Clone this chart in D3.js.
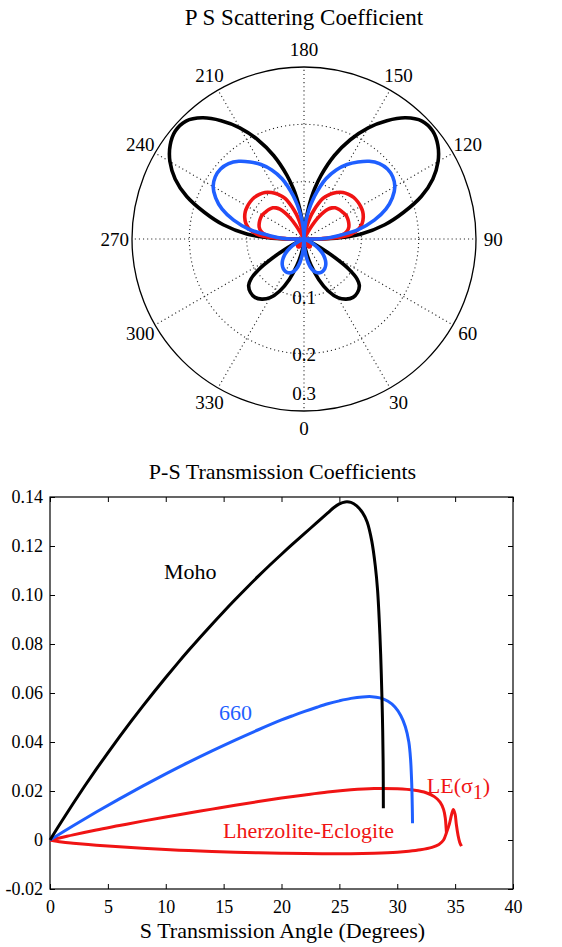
<!DOCTYPE html>
<html>
<head>
<meta charset="utf-8">
<script src="https://cdn.jsdelivr.net/npm/d3@7"></script>
<style>
  html, body { margin: 0; padding: 0; background: #fff; }
  svg { display: block; }
  svg text { font-family: "Liberation Serif", "Times New Roman", serif; }
</style>
</head>
<body>
<svg id="fig" width="562" height="947"></svg>
<script>
// ---------- Polar panel: P S scattering coefficient ----------
// angle in degrees (0 = down, increasing counter-clockwise), radius = coefficient
const polarAngleTicks = [0, 30, 60, 90, 120, 150, 180, 210, 240, 270, 300, 330];
const polarRadiusTicks = [0.1, 0.2, 0.3];

const scatterMoho = [
  [0,0],[5,0.008],[10,0.025],[15,0.048],[20,0.075],[25,0.100],[30,0.118],[35,0.128],[40,0.133],
  [45,0.132],[50,0.126],[53,0.116],[56,0.095],[59,0.062],[62,0.032],[65,0.012],[70,0.003],[80,0.002],
  [87,0.004],[90,0.030],[92,0.062],[95,0.100],[100,0.143],[105,0.180],[110,0.218],[115,0.248],
  [120,0.270],[125,0.285],[130,0.293],[135,0.291],[140,0.276],[145,0.252],[150,0.224],[155,0.191],
  [160,0.155],[165,0.115],[168,0.090],[170,0.072],[172,0.052],[175,0.027],[178,0.008],[180,0],
  [182,0.008],[185,0.027],[188,0.052],[190,0.072],[192,0.090],[195,0.115],[200,0.155],[205,0.191],
  [210,0.224],[215,0.252],[220,0.276],[225,0.291],[230,0.293],[235,0.285],[240,0.270],[245,0.248],
  [250,0.218],[255,0.180],[260,0.143],[265,0.100],[268,0.062],[270,0.030],[273,0.004],[280,0.002],
  [290,0.003],[295,0.012],[298,0.032],[301,0.062],[304,0.095],[307,0.116],[310,0.126],[315,0.132],
  [320,0.133],[325,0.128],[330,0.118],[335,0.100],[340,0.075],[345,0.048],[350,0.025],[355,0.008]
];

const scatter660 = [
  [0,0],[5,0.022],[10,0.042],[15,0.055],[20,0.062],[25,0.065],[30,0.065],[35,0.063],[40,0.059],
  [45,0.053],[50,0.045],[55,0.035],[60,0.023],[65,0.011],[70,0.003],[80,0.001],[87,0.004],
  [90,0.020],[92,0.038],[95,0.056],[100,0.097],[105,0.127],[110,0.152],[115,0.170],[120,0.183],
  [125,0.189],[130,0.190],[135,0.186],[140,0.177],[145,0.164],[150,0.150],[155,0.133],[160,0.112],
  [163,0.095],[166,0.078],[169,0.060],[172,0.042],[175,0.025],[178,0.009],[180,0],
  [182,0.009],[185,0.025],[188,0.042],[191,0.060],[194,0.078],[197,0.095],[200,0.112],[205,0.133],
  [210,0.150],[215,0.164],[220,0.177],[225,0.186],[230,0.190],[235,0.189],[240,0.183],[245,0.170],
  [250,0.152],[255,0.127],[260,0.097],[265,0.056],[268,0.038],[270,0.020],[273,0.004],[280,0.001],
  [290,0.003],[295,0.011],[300,0.023],[305,0.035],[310,0.045],[315,0.053],[320,0.059],[325,0.063],
  [330,0.065],[335,0.065],[340,0.062],[345,0.055],[350,0.042],[355,0.022]
];

const scatterLEOuter = [
  [0,0],[10,0.003],[20,0.009],[30,0.015],[35,0.017],[40,0.017],[50,0.012],[60,0.005],[70,0.001],
  [85,0.001],[89,0.004],[91,0.030],[93,0.062],[96,0.083],[100,0.096],[105,0.105],[110,0.110],
  [115,0.113],[120,0.114],[125,0.114],[130,0.113],[135,0.110],[140,0.106],[145,0.099],[150,0.090],
  [155,0.078],[158,0.066],[161,0.053],[164,0.040],[167,0.024],[170,0.009],[173,0.002],[180,0],
  [187,0.002],[190,0.009],[193,0.024],[196,0.040],[199,0.053],[202,0.066],[205,0.078],[210,0.090],
  [215,0.099],[220,0.106],[225,0.110],[230,0.113],[235,0.114],[240,0.114],[245,0.113],[250,0.110],
  [255,0.105],[260,0.096],[264,0.083],[267,0.062],[269,0.030],[271,0.004],[275,0.001],[290,0.001],
  [300,0.005],[310,0.012],[320,0.017],[325,0.017],[330,0.015],[340,0.009],[350,0.003]
];

const scatterLEInner = [
  [0,0],[10,0.002],[20,0.006],[30,0.010],[40,0.011],[50,0.008],[60,0.003],[70,0.001],[85,0.001],
  [89,0.004],[91,0.028],[93,0.050],[96,0.067],[100,0.076],[105,0.081],[110,0.083],[115,0.084],
  [120,0.084],[125,0.082],[130,0.080],[135,0.077],[138,0.073],[141,0.067],[144,0.057],[147,0.043],
  [149,0.029],[151,0.014],[153,0.004],[160,0.001],[180,0],
  [200,0.001],[207,0.004],[209,0.014],[211,0.029],[213,0.043],[216,0.057],[219,0.067],[222,0.073],
  [225,0.077],[230,0.080],[235,0.082],[240,0.084],[245,0.084],[250,0.083],[255,0.081],[260,0.076],
  [264,0.067],[267,0.050],[269,0.028],[271,0.004],[275,0.001],[290,0.001],[300,0.003],[310,0.008],
  [320,0.011],[330,0.010],[340,0.006],[350,0.002]
];

// ---------- Cartesian panel: P-S transmission coefficients ----------
const xTickValues = [0, 5, 10, 15, 20, 25, 30, 35, 40];
const yTickValues = [-0.02, 0, 0.02, 0.04, 0.06, 0.08, 0.10, 0.12, 0.14];
const yTickLabels = ["-0.02", "0", "0.02", "0.04", "0.06", "0.08", "0.10", "0.12", "0.14"];

const transMoho = [
  [0,0],[1,0.00758],[2,0.01491],[3,0.02203],[4,0.02892],[5,0.03560],[6,0.04209],[7,0.04840],
  [8,0.05454],[9,0.06052],[10,0.06633],[11,0.07200],[12,0.07752],[13,0.08288],[14,0.08810],
  [15,0.09320],[16,0.09815],[17,0.10298],[18,0.10768],[19,0.11224],[20,0.11664],[21,0.12094],
  [22,0.12512],[23,0.12935],[24,0.13350],[24.5,0.13560],[25,0.13720],[25.5,0.13800],[26,0.13780],
  [26.5,0.13640],[27,0.13360],[27.4,0.12980],[27.8,0.12200],[28.1,0.11200],[28.3,0.10200],
  [28.5,0.08400],[28.62,0.06800],[28.72,0.05000],[28.78,0.03200],[28.8,0.01300]
];

const trans660 = [
  [0,0],[2,0.0058],[4,0.0114],[6,0.0168],[8,0.0220],[10,0.0270],[12,0.0318],[14,0.0364],
  [16,0.0408],[18,0.0450],[20,0.0490],[21,0.0508],[22,0.0525],[23,0.0541],[24,0.0556],[25,0.0568],
  [26,0.0578],[27,0.0584],[27.8,0.0585],[28.5,0.0580],[29.2,0.0566],[29.8,0.0543],[30.3,0.0508],
  [30.7,0.0462],[31.0,0.0400],[31.15,0.0330],[31.25,0.0230],[31.3,0.0130],[31.32,0.0068]
];

const transLEUpper = [
  [0,0],[1,0.0010],[2,0.0021],[4,0.0041],[6,0.0059],[8,0.0077],[10,0.0094],[12,0.0110],[14,0.0126],
  [16,0.0142],[18,0.0157],[20,0.0171],[22,0.0184],[24,0.0196],[26,0.0205],[28,0.0210],[30,0.0209],
  [31.5,0.0203],[32.5,0.0193],[33.2,0.0177],[33.7,0.0155],[34.0,0.0125],[34.15,0.0090],[34.22,0.0050],
  [34.25,0.0030]
];

const transLELower = [
  [0,0],[1,-0.0008],[2,-0.0013],[4,-0.0021],[6,-0.0028],[8,-0.0034],[10,-0.0039],[12,-0.0043],
  [14,-0.0047],[16,-0.0050],[18,-0.0052],[20,-0.0054],[22,-0.0055],[24,-0.0056],[26,-0.0056],
  [28,-0.0054],[30,-0.0050],[31,-0.0046],[32,-0.0040],[33,-0.0030],[33.6,-0.0018],[34.0,0.0000],
  [34.25,0.0030],[34.5,0.0065],[34.7,0.0105],[34.85,0.0125],[35.0,0.0105],[35.1,0.0065],
  [35.25,0.0020],[35.4,-0.0010],[35.55,-0.0025]
];

const BLACK = "#000000", BLUE = "#1f5fff", RED = "#f01414";

const svg = d3.select("#fig");

// ================= polar panel =================
const cx = 304, cy = 239, R = 172;
const rScale = d3.scaleLinear().domain([0, 0.3]).range([0, R]);
const rad = d => d * Math.PI / 180;
const polar = svg.append("g").attr("transform", `translate(${cx},${cy})`);

svg.append("text")
  .attr("x", cx).attr("y", 25)
  .attr("text-anchor", "middle")
  .attr("font-size", 23)
  .text("P S Scattering Coefficient");

const dotted = { stroke: "#222", width: 1.1, dash: "1.1,3" };

// dotted spokes
polar.selectAll("line.spoke")
  .data(polarAngleTicks)
  .join("line")
  .attr("class", "spoke")
  .attr("x1", 0).attr("y1", 0)
  .attr("x2", d => R * Math.sin(rad(d)))
  .attr("y2", d => R * Math.cos(rad(d)))
  .attr("stroke", dotted.stroke)
  .attr("stroke-width", dotted.width)
  .attr("stroke-dasharray", dotted.dash);

// dotted rings
polar.selectAll("circle.ring")
  .data(polarRadiusTicks.slice(0, -1))
  .join("circle")
  .attr("class", "ring")
  .attr("r", d => rScale(d))
  .attr("fill", "none")
  .attr("stroke", dotted.stroke)
  .attr("stroke-width", dotted.width)
  .attr("stroke-dasharray", dotted.dash);

// outer circle
polar.append("circle")
  .attr("r", rScale(d3.max(polarRadiusTicks)))
  .attr("fill", "none")
  .attr("stroke", "#000")
  .attr("stroke-width", 1.3);

// angle labels
polar.selectAll("text.ang")
  .data(polarAngleTicks)
  .join("text")
  .attr("class", "ang")
  .attr("x", d => R * 1.1 * Math.sin(rad(d)))
  .attr("y", d => R * 1.1 * Math.cos(rad(d)))
  .attr("text-anchor", "middle")
  .attr("dominant-baseline", "central")
  .attr("font-size", 19)
  .text(d => d);

const radial = d3.lineRadial()
  .angle(d => rad(180 - d[0]))
  .radius(d => rScale(d[1]))
  .curve(d3.curveCatmullRomClosed.alpha(0.5));

const polarSeries = [
  { data: scatterMoho, color: BLACK },
  { data: scatterLEOuter, color: RED },
  { data: scatterLEInner, color: RED },
  { data: scatter660, color: BLUE }
];
polar.selectAll("path.lobe")
  .data(polarSeries)
  .join("path")
  .attr("class", "lobe")
  .attr("d", d => radial(d.data))
  .attr("fill", "none")
  .attr("stroke", d => d.color)
  .attr("stroke-width", 3.6)
  .attr("stroke-linejoin", "round");

// radius labels along the downward axis
polar.selectAll("text.rlab")
  .data(polarRadiusTicks)
  .join("text")
  .attr("class", "rlab")
  .attr("x", 0)
  .attr("y", (d, i) => i === polarRadiusTicks.length - 1 ? rScale(d) - 18 : rScale(d) + 1)
  .attr("text-anchor", "middle")
  .attr("dominant-baseline", "central")
  .attr("font-size", 19)
  .text(d => d);

// ================= cartesian panel =================
const plotLeft = 50, plotRight = 513, plotTop = 497, plotBottom = 889;
const x = d3.scaleLinear().domain([0, 40]).range([plotLeft, plotRight]);
const y = d3.scaleLinear().domain([-0.02, 0.14]).range([plotBottom, plotTop]);
const tickLen = 5;

svg.append("text")
  .attr("x", (plotLeft + plotRight) / 2 + 1).attr("y", 479)
  .attr("text-anchor", "middle")
  .attr("font-size", 22)
  .text("P-S Transmission Coefficients");

const axB = svg.append("g").attr("transform", `translate(0,${plotBottom})`)
  .call(d3.axisBottom(x).tickValues(xTickValues).tickSize(-tickLen).tickPadding(11));
const axT = svg.append("g").attr("transform", `translate(0,${plotTop})`)
  .call(d3.axisTop(x).tickValues(xTickValues).tickSize(-tickLen).tickFormat(""));
const axL = svg.append("g").attr("transform", `translate(${plotLeft},0)`)
  .call(d3.axisLeft(y).tickValues(yTickValues).tickSize(-tickLen).tickPadding(7)
    .tickFormat((d, i) => yTickLabels[i]));
const axR = svg.append("g").attr("transform", `translate(${plotRight},0)`)
  .call(d3.axisRight(y).tickValues(yTickValues).tickSize(-tickLen).tickFormat(""));

[axB, axT, axL, axR].forEach(g => {
  g.select(".domain").remove();
  g.selectAll(".tick line").attr("stroke", "#000").attr("stroke-width", 1);
  g.selectAll(".tick text")
    .attr("font-size", 18)
    .attr("fill", "#000");
});

svg.append("rect")
  .attr("x", plotLeft).attr("y", plotTop)
  .attr("width", plotRight - plotLeft).attr("height", plotBottom - plotTop)
  .attr("fill", "none").attr("stroke", "#000").attr("stroke-width", 1.2);

const line = d3.line()
  .x(d => x(d[0])).y(d => y(d[1]))
  .curve(d3.curveCatmullRom.alpha(0.5));

const transSeries = [
  { data: transLELower, color: RED },
  { data: transLEUpper, color: RED },
  { data: trans660, color: BLUE },
  { data: transMoho, color: BLACK }
];
svg.append("g").selectAll("path")
  .data(transSeries)
  .join("path")
  .attr("d", d => line(d.data))
  .attr("fill", "none")
  .attr("stroke", d => d.color)
  .attr("stroke-width", 3)
  .attr("stroke-linejoin", "round");

// curve labels, anchored in data coordinates
const labels = svg.append("g").attr("font-size", 22);
labels.append("text").attr("x", x(9.85)).attr("y", y(0.1064)).attr("fill", BLACK).text("Moho");
labels.append("text").attr("x", x(14.6)).attr("y", y(0.0491)).attr("fill", BLUE).text("660");
labels.append("text").attr("x", x(14.95)).attr("y", y(0.0008)).attr("fill", RED).text("Lherzolite-Eclogite");
const le = labels.append("text").attr("x", x(32.55)).attr("y", y(0.0192)).attr("fill", RED);
le.append("tspan").text("LE(σ");
le.append("tspan").attr("dy", 6).attr("font-size", 20).text("1");
le.append("tspan").attr("dy", -6).text(")");

svg.append("text")
  .attr("x", (plotLeft + plotRight) / 2 + 1).attr("y", 938)
  .attr("text-anchor", "middle")
  .attr("font-size", 22)
  .text("S Transmission Angle (Degrees)");
</script>
</body>
</html>
